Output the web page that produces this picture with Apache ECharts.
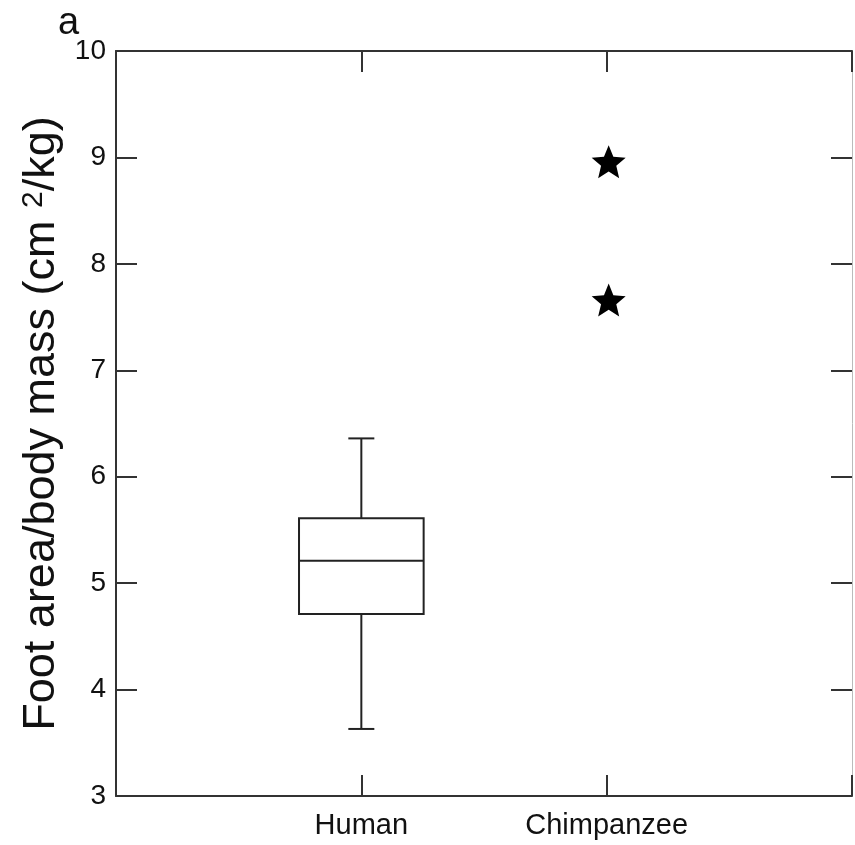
<!DOCTYPE html>
<html>
<head>
<meta charset="utf-8">
<script src="https://cdn.jsdelivr.net/npm/echarts@6/dist/echarts.min.js"></script>
<style>
  html, body { margin: 0; padding: 0; background: #fff; }
  #chart { width: 855px; height: 845px; }
</style>
</head>
<body>
<div id="chart"></div>
<script>
// 类别（x 位置 1、2）
var categories = ['Human', 'Chimpanzee'];
var catPos = [1, 2];
// 箱线图：x, 下须, Q1, 中位数, Q3, 上须
var boxData = [[1, 3.63, 4.71, 5.21, 5.61, 6.36]];
// 黑猩猩的两个点
var chimpPoints = [[2, 8.96], [2, 7.66]];
var yTicks = [3, 4, 5, 6, 7, 8, 9, 10];

var starPath = 'path://M12,1.5 L14.9,8.6 L22.5,9.2 L16.7,14.1 L18.5,21.6 L12,17.5 L5.5,21.6 L7.3,14.1 L1.5,9.2 L9.1,8.6 Z';

var axisColor = '#333';
var font = 'Liberation Sans, Arial, sans-serif';

var myChart = echarts.init(document.getElementById('chart'));

var option = {
    animation: false,
    backgroundColor: '#fff',
    graphic: [{
        type: 'text',
        left: 58,
        top: 5,
        style: { text: 'a', font: '38px ' + font, fill: '#111' }
    }],
    grid: { left: 116, top: 51, right: 1, bottom: 49 },
    xAxis: [{
        type: 'value',
        min: 0, max: 3, interval: 1,
        axisLine: { show: true, onZero: false, lineStyle: { color: axisColor, width: 2 } },
        axisTick: { show: true, inside: true, length: 21, lineStyle: { color: axisColor, width: 2 } },
        splitLine: { show: false },
        axisLabel: {
            margin: 15,
            color: '#111',
            fontFamily: font,
            fontSize: 29,
            formatter: function (v) {
                var i = catPos.indexOf(v);
                return i >= 0 ? categories[i] : '';
            }
        }
    }, {
        type: 'value',
        position: 'top',
        min: 0, max: 3, interval: 1,
        axisLine: { show: true, onZero: false, lineStyle: { color: axisColor, width: 2 } },
        axisTick: { show: true, inside: true, length: 21, lineStyle: { color: axisColor, width: 2 } },
        splitLine: { show: false },
        axisLabel: { show: false }
    }],
    yAxis: [{
        type: 'value',
        min: yTicks[0], max: yTicks[yTicks.length - 1], interval: 1,
        axisLine: { show: true, onZero: false, lineStyle: { color: axisColor, width: 2 } },
        axisTick: { show: true, inside: true, length: 21, lineStyle: { color: axisColor, width: 2 } },
        splitLine: { show: false },
        axisLabel: { margin: 10, color: '#111', fontFamily: font, fontSize: 28 },
        name: '{a|Foot area/body mass (cm }{s|2}{a|/kg)}',
        nameLocation: 'middle',
        nameGap: 47,
        nameRotate: 90,
        nameTextStyle: {
            rich: {
                a: { fontFamily: font, fontSize: 45, color: '#111' },
                s: { fontFamily: font, fontSize: 30, color: '#111', verticalAlign: 'top' }
            }
        }
    }, {
        type: 'value',
        position: 'right',
        min: yTicks[0], max: yTicks[yTicks.length - 1], interval: 1,
        axisLine: { show: true, onZero: false, lineStyle: { color: '#bbb', width: 1 } },
        axisTick: { show: true, inside: true, length: 21, lineStyle: { color: axisColor, width: 2 } },
        splitLine: { show: false },
        axisLabel: { show: false }
    }],
    series: [{
        type: 'custom',
        data: boxData,
        renderItem: function (params, api) {
            var x = api.value(0);
            var lo = api.coord([x, api.value(1)]);
            var q1 = api.coord([x, api.value(2)]);
            var med = api.coord([x, api.value(3)]);
            var q3 = api.coord([x, api.value(4)]);
            var hi = api.coord([x, api.value(5)]);
            var bw = api.size([0.508, 0])[0] / 2;
            var cw = api.size([0.106, 0])[0] / 2;
            var st = { stroke: '#222', lineWidth: 2, fill: null };
            return {
                type: 'group',
                children: [
                    { type: 'rect', shape: { x: q3[0] - bw, y: q3[1], width: bw * 2, height: q1[1] - q3[1] }, style: { stroke: '#222', lineWidth: 2, fill: '#fff' } },
                    { type: 'line', shape: { x1: med[0] - bw, y1: med[1], x2: med[0] + bw, y2: med[1] }, style: st },
                    { type: 'line', shape: { x1: hi[0], y1: hi[1], x2: q3[0], y2: q3[1] }, style: st },
                    { type: 'line', shape: { x1: lo[0], y1: lo[1], x2: q1[0], y2: q1[1] }, style: st },
                    { type: 'line', shape: { x1: hi[0] - cw, y1: hi[1], x2: hi[0] + cw, y2: hi[1] }, style: st },
                    { type: 'line', shape: { x1: lo[0] - cw, y1: lo[1], x2: lo[0] + cw, y2: lo[1] }, style: st }
                ]
            };
        }
    }, {
        type: 'scatter',
        data: chimpPoints,
        symbol: starPath,
        symbolSize: [34, 33],
        symbolOffset: [2, 0],
        itemStyle: { color: '#000', opacity: 1 }
    }]
};

myChart.setOption(option);
window.addEventListener('resize', function () {
    myChart.resize();
});
</script>
</body>
</html>
